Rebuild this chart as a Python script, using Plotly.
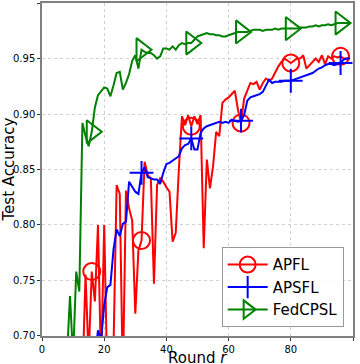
import plotly.graph_objects as go

rounds = list(range(100))

apfl = [0.10, 0.20, 0.30, 0.38, 0.45, 0.50, 0.54, 0.58, 0.60, 0.62,
        0.64, 0.65, 0.66, 0.66, 0.755, 0.68, 0.758, 0.731, 0.800, 0.67,
        0.800, 0.66, 0.67, 0.69, 0.836, 0.828, 0.66, 0.831, 0.815, 0.804,
        0.720, 0.777, 0.786, 0.857, 0.845, 0.842, 0.747, 0.836, 0.842, 0.839,
        0.834, 0.830, 0.785, 0.793, 0.850, 0.898, 0.890, 0.899, 0.889, 0.898,
        0.891, 0.899, 0.779, 0.859, 0.833, 0.853, 0.884, 0.880, 0.910, 0.913,
        0.915, 0.918, 0.921, 0.904, 0.892, 0.914, 0.922, 0.928, 0.927, 0.929,
        0.922, 0.928, 0.932, 0.930, 0.932, 0.938, 0.943, 0.947, 0.950, 0.948,
        0.946, 0.948, 0.950, 0.950, 0.953, 0.941, 0.944, 0.947, 0.950, 0.947,
        0.953, 0.945, 0.952, 0.950, 0.952, 0.951, 0.952, 0.950, 0.950, 0.951]

apsfl = [0.10, 0.15, 0.20, 0.25, 0.30, 0.35, 0.40, 0.44, 0.48, 0.52,
         0.55, 0.58, 0.60, 0.62, 0.64, 0.66, 0.67, 0.68, 0.705, 0.696,
         0.728, 0.744, 0.746, 0.778, 0.796, 0.790, 0.801, 0.803, 0.839, 0.834,
         0.830, 0.828, 0.847, 0.852, 0.843, 0.842, 0.841, 0.841, 0.837, 0.847,
         0.855, 0.856, 0.858, 0.860, 0.862, 0.869, 0.872, 0.873, 0.878, 0.868,
         0.868, 0.883, 0.887, 0.889, 0.890, 0.891, 0.892, 0.893, 0.892, 0.893,
         0.892, 0.895, 0.894, 0.893, 0.894, 0.899, 0.912, 0.915, 0.916, 0.917,
         0.918, 0.920, 0.926, 0.931, 0.928, 0.929, 0.929, 0.929, 0.930, 0.930,
         0.930, 0.931, 0.932, 0.933, 0.934, 0.935, 0.936, 0.937, 0.939, 0.941,
         0.942, 0.944, 0.945, 0.945, 0.944, 0.945, 0.946, 0.949, 0.950, 0.950]

fedcpsl = [0.10, 0.25, 0.35, 0.45, 0.52, 0.58, 0.62, 0.66, 0.68, 0.736,
           0.680, 0.758, 0.740, 0.892, 0.880, 0.871, 0.884, 0.906, 0.917, 0.921,
           0.924, 0.923, 0.916, 0.926, 0.937, 0.938, 0.922, 0.928, 0.936, 0.948,
           0.953, 0.941, 0.958, 0.956, 0.955, 0.955, 0.953, 0.950, 0.952, 0.959,
           0.959, 0.958, 0.961, 0.958, 0.962, 0.964, 0.963, 0.964, 0.964, 0.967,
           0.970, 0.971, 0.972, 0.973, 0.972, 0.972, 0.971, 0.971, 0.970, 0.970,
           0.971, 0.972, 0.973, 0.974, 0.974, 0.974, 0.974, 0.975, 0.976, 0.976,
           0.976, 0.975, 0.976, 0.976, 0.976, 0.977, 0.976, 0.977, 0.977, 0.977,
           0.977, 0.977, 0.977, 0.978, 0.978, 0.978, 0.979, 0.979, 0.980, 0.979,
           0.980, 0.980, 0.981, 0.980, 0.981, 0.982, 0.982, 0.982, 0.982, 0.982]

series_names = ["APFL", "APSFL", "FedCPSL"]
x_ticks = [0, 20, 40, 60, 80, 100]
y_ticks = [0.70, 0.75, 0.80, 0.85, 0.90, 0.95, 1.00]
x_title = "Round <i>r</i>"
y_title = "Test Accuracy"
mark_every = 16

styles = [
    (apfl, "#ff0000", "circle-open", 17),
    (apsfl, "#0000ff", "cross-thin-open", 17),
    (fedcpsl, "#008000", "triangle-right-open", 20),
]

fig = go.Figure()
for name, (vals, color, sym, msize) in zip(series_names, styles):
    fig.add_trace(go.Scatter(
        x=rounds, y=vals, mode="lines", showlegend=False,
        line=dict(color=color, width=2), hoverinfo="skip"))
    fig.add_trace(go.Scatter(
        x=rounds[::mark_every], y=vals[::mark_every], mode="markers",
        showlegend=False,
        marker=dict(symbol=sym, size=msize, color=color,
                    line=dict(color=color, width=2))))
    fig.add_trace(go.Scatter(
        x=[None], y=[None], mode="lines+markers", name=name,
        line=dict(color=color, width=2),
        marker=dict(symbol=sym, size=16, color=color,
                    line=dict(color=color, width=2))))

axis_common = dict(
    showgrid=True, gridcolor="#d0d0d0", griddash="dot", gridwidth=1,
    showline=True, linecolor="#808080", linewidth=1.5, mirror=True,
    ticks="outside", ticklen=3, tickwidth=1, tickcolor="#333",
    tickfont=dict(family="DejaVu Sans", size=10, color="#000"),
    zeroline=False, automargin=False,
)

fig.update_layout(
    width=360, height=364,
    margin=dict(l=42, r=7, t=3, b=28),
    paper_bgcolor="white", plot_bgcolor="white",
    font=dict(family="DejaVu Sans", color="#000"),
    xaxis=dict(range=[0, 100], tickvals=x_ticks, ticktext=[str(v) for v in x_ticks],
               **axis_common),
    yaxis=dict(range=[0.6999, 1.0001], tickvals=y_ticks,
               ticktext=["%.2f" % v for v in y_ticks],
               **axis_common),
    legend=dict(x=0.97, y=0.026, xanchor="right", yanchor="bottom",
                bgcolor="rgba(255,255,255,0.85)", bordercolor="#999",
                borderwidth=1, font=dict(size=15, family="DejaVu Sans"),
                tracegroupgap=0, itemwidth=40),
    annotations=[
        dict(text=x_title, xref="paper", yref="paper", x=0.5, y=0,
             xanchor="center", yanchor="top", yshift=-11, showarrow=False,
             font=dict(size=15, family="DejaVu Sans", color="#000")),
        dict(text=y_title, xref="paper", yref="paper", x=0, y=0.5,
             xanchor="center", yanchor="middle", xshift=-34, textangle=-90,
             showarrow=False,
             font=dict(size=15, family="DejaVu Sans", color="#000")),
    ],
    showlegend=True,
)

fig.write_html("out.html", config={"displayModeBar": False},
               post_script="document.body.style.margin='0px';")
